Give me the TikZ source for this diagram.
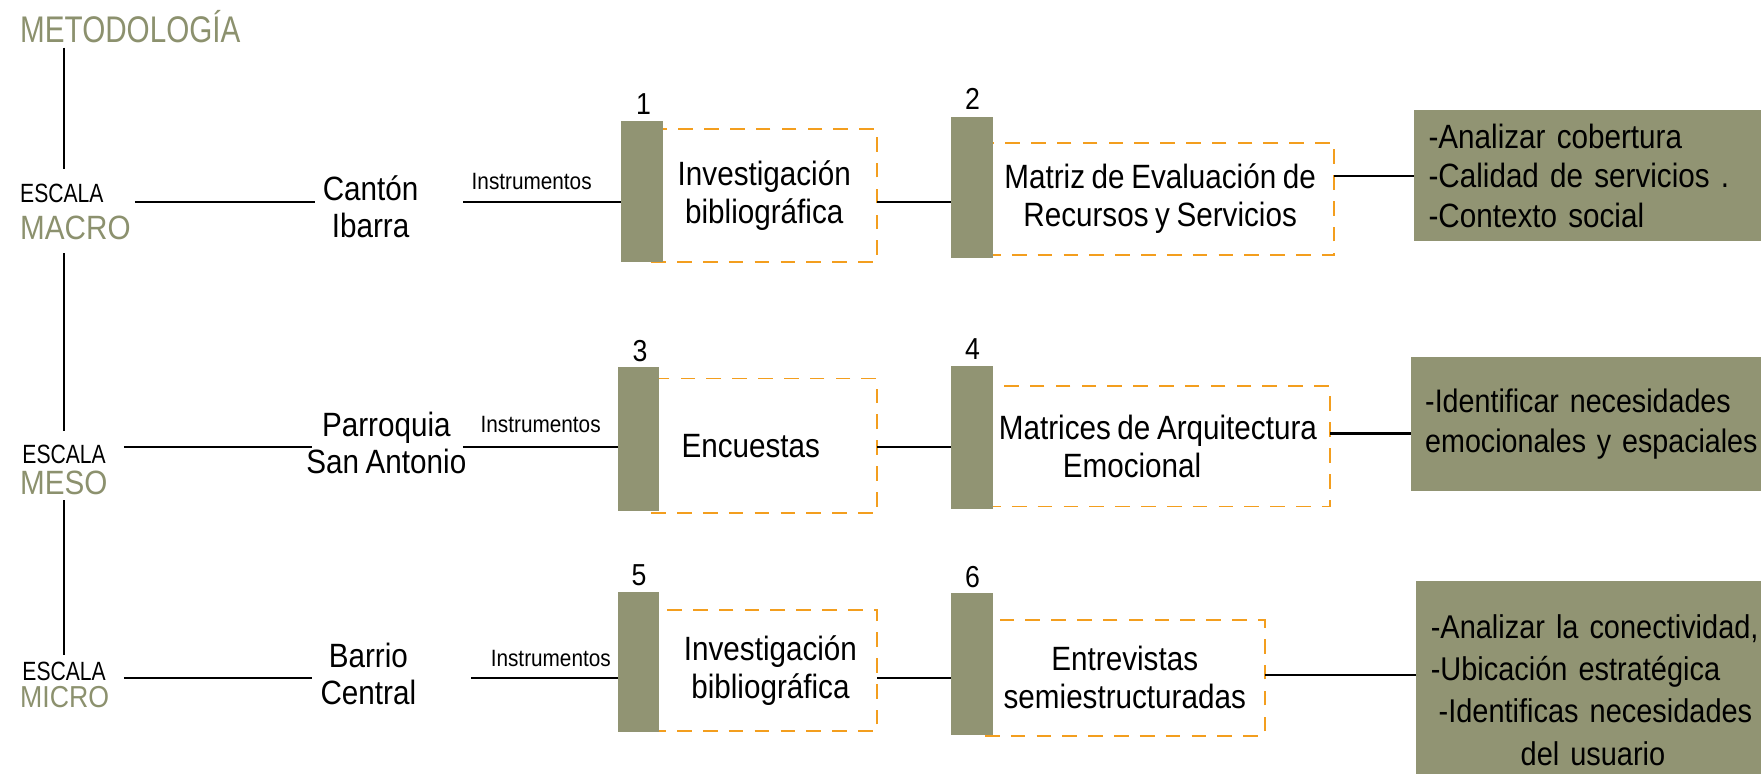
\documentclass[tikz,border=0pt]{standalone}
\usepackage{fontspec}
\setmainfont{Liberation Sans}[FakeStretch=0.88,WordSpace=0.8]
\newfontfamily\nf{Liberation Sans}[FakeStretch=0.8,WordSpace=0.8]
\definecolor{olv}{RGB}{145,148,115}
\definecolor{olvtxt}{RGB}{140,145,110}
\definecolor{dorange}{RGB}{243,158,30}
\tikzset{
  txt/.style={inner sep=0pt, outer sep=0pt, align=center, font=\fontsize{30}{33}\selectfont},
  hd/.style={inner sep=0pt, outer sep=0pt, text=olvtxt, font=\nf\fontsize{33}{33}\selectfont, anchor=base west},
  esc/.style={inner sep=0pt, outer sep=0pt, font=\nf\fontsize{23.5}{23.5}\selectfont, anchor=base west},
  lvl/.style={inner sep=0pt, outer sep=0pt, text=olvtxt, font=\fontsize{30}{30}\selectfont, anchor=base west},
  ins/.style={inner sep=0pt, outer sep=0pt, font=\fontsize{21}{21}\selectfont, anchor=west},
  num/.style={inner sep=0pt, outer sep=0pt, font=\fontsize{27}{27}\selectfont},
  bar/.style={fill=olv, draw=none, minimum width=37pt, inner sep=0pt, outer sep=0pt, anchor=north west},
  dbox/.style={draw=dorange, line width=1.6pt, dash pattern=on 13pt off 10pt, inner sep=0pt, outer sep=0pt,
               anchor=north west, align=center, font=\fontsize{30}{34}\selectfont},
  gbox/.style={fill=olv, draw=none, anchor=north west, inner ysep=0pt, inner xsep=13pt, outer sep=0pt,
               text width=420pt, align=left},
  conn/.style={line width=2pt, black},
  vline/.style={line width=2.5pt, black},
}
\begin{document}
\begin{tikzpicture}[x=1pt,y=-1pt]
\useasboundingbox (0,0) rectangle (1568,689);
\coordinate (vx) at (57,0);
\coordinate (r1) at (0,180);
\coordinate (r2) at (0,398);
\coordinate (r3) at (0,604);

% left column
\node[hd] (meto) at (18,38) {METODOLOGÍA};
\node[esc] (esA1) at (18,180) {ESCALA};
\node[lvl] (lv1) at (18,213) {MACRO};
\node[esc] (esA2) at (20,413) {ESCALA};
\node[lvl] (lv2) at (18,440) {MESO};
\node[esc] (esA3) at (20,606) {ESCALA};
\node[lvl, font=\fontsize{27}{27}\selectfont] (lv3) at (18,630) {MICRO};

\draw[vline] ([yshift=-4pt]meto.south -| vx) -- ([yshift=13pt]esA1.north -| vx);
\draw[vline] ([yshift=-12pt]lv1.south -| vx) -- ([yshift=13pt]esA2.north -| vx);
\draw[vline] ([yshift=-5pt]lv2.south -| vx) -- ([yshift=6pt]esA3.north -| vx);

% locations
\node[txt] (loc1) at (330,184) {Cantón\\Ibarra};
\node[txt] (loc2) at (344,394) {Parroquia\\San Antonio};
\node[txt] (loc3) at (328,600) {Barrio\\Central};

\node[ins] (ins1) at (420,162) {Instrumentos};
\node[ins] (ins2) at (428,378) {Instrumentos};
\node[ins] (ins3) at (437,586) {Instrumentos};

% dashed boxes
\node[dbox, minimum width=201pt, minimum height=118pt] (d1) at (580,115) {Investigación\\bibliográfica};
\node[dbox, minimum width=310pt, minimum height=100pt] (d2) at (878,127) {Matriz de Evaluación de\\Recursos y Servicios};
\node[dbox, minimum width=201pt, minimum height=120pt] (d3) at (580,337) {Encuestas\hspace*{24pt}};
\node[dbox, minimum width=306pt, minimum height=107pt] (d4) at (878,344) {Matrices de Arquitectura\\Emocional\hspace*{46pt}};
\node[dbox, minimum width=201pt, minimum height=108pt] (d5) at (580,543) {\hspace*{11pt}Investigación\\\hspace*{11pt}bibliográfica};
\node[dbox, minimum width=249pt, minimum height=103pt] (d6) at (877,552) {Entrevistas\\semiestructuradas};

% bars
\node[bar, minimum height=125pt] (bar1) at (553,108) {};
\node[bar, minimum height=126pt] (bar2) at (847,104) {};
\node[bar, minimum height=128pt] (bar3) at (550,327) {};
\node[bar, minimum height=127pt] (bar4) at (847,326) {};
\node[bar, minimum height=125pt] (bar5) at (550,527) {};
\node[bar, minimum height=126pt] (bar6) at (847,528) {};

\node[num] (n1) at (573,93) {1};
\node[num] (n2) at (866,88) {2};
\node[num] (n3) at (570,313) {3};
\node[num] (n4) at (866,311) {4};
\node[num] (n5) at (569,512) {5};
\node[num] (n6) at (866,514) {6};

% green boxes
\node[gbox, minimum height=117pt, font=\fontsize{30}{35}\selectfont] (g1) at (1259,98)
  {-Analizar cobertura\\-Calidad de servicios .\\-Contexto social};
\node[gbox, minimum height=119pt, font=\fontsize{29}{36}\selectfont] (g2) at (1256,318)
  {-Identificar necesidades\\emocionales y espaciales};
\node[gbox, minimum height=195pt, font=\fontsize{29.3}{37.5}\selectfont] (g3) at (1261,517)
  {-Analizar la conectividad,\\-Ubicación estratégica\\\hspace*{7pt}-Identificas necesidades\\\hspace*{80pt}del usuario};

% connectors row 1
\draw[conn] ([xshift=28pt]esA1.east |- r1) -- ([xshift=-7pt]loc1.west |- r1);
\draw[conn] ([xshift=40pt]loc1.east |- r1) -- (bar1.west |- r1);
\draw[conn] (d1.east |- r1) -- (bar2.west |- r1);
\draw[conn] (d2.east |- 0,157) -- (g1.west |- 0,157);
% row 2
\draw[conn] ([xshift=16pt]esA2.east |- r2) -- ([xshift=5pt]loc2.west |- r2);
\draw[conn] ([xshift=-3pt]loc2.east |- r2) -- (bar3.west |- r2);
\draw[conn] (d3.east |- r2) -- (bar4.west |- r2);
\draw[conn] (d4.east |- 0,386) -- (g2.west |- 0,386);
% row 3
\draw[conn] ([xshift=16pt]esA3.east |- r3) -- ([xshift=-8pt]loc3.west |- r3);
\draw[conn] ([xshift=49pt]loc3.east |- r3) -- (bar5.west |- r3);
\draw[conn] (d5.east |- r3) -- (bar6.west |- r3);
\draw[conn] (d6.east |- 0,601) -- (g3.west |- 0,601);
\end{tikzpicture}
\end{document}
